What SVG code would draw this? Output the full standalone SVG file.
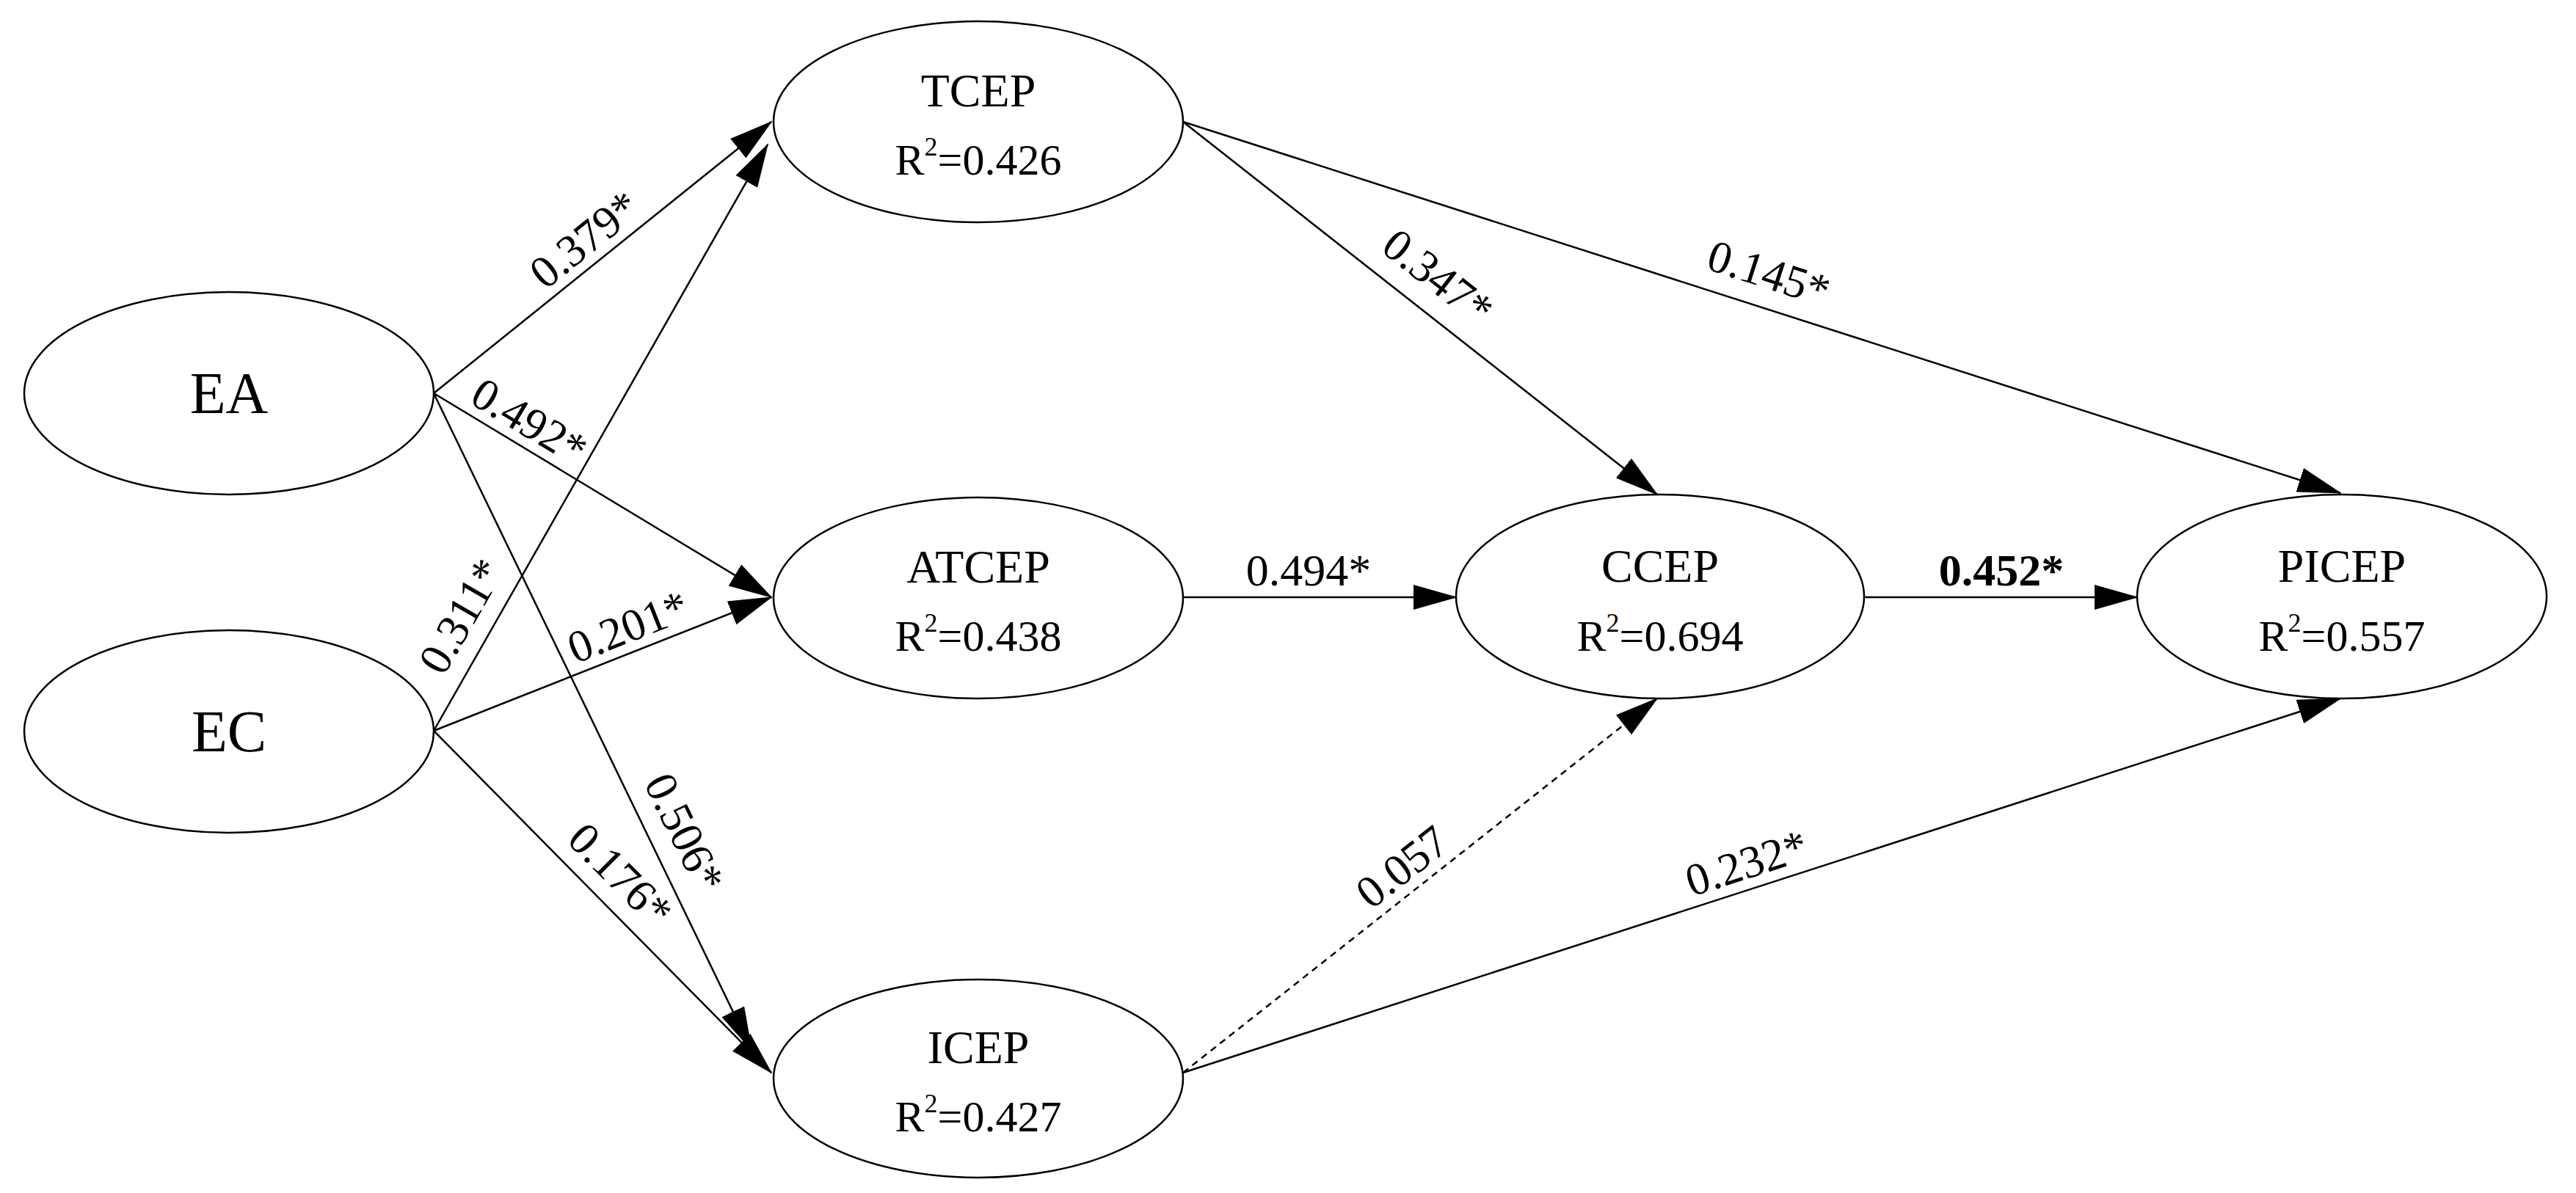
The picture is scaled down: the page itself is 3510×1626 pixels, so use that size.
<svg xmlns="http://www.w3.org/2000/svg" width="3510" height="1626" viewBox="0 0 3510 1626">
<style>
.n{fill:#fff;stroke:#000;stroke-width:2.5}
.t{font-family:"Liberation Serif","Times New Roman",serif;fill:#000;text-anchor:middle}
.big{font-size:80px}
.nm{font-size:64px}
.r{font-size:60px}
.lb{font-family:"Liberation Serif","Times New Roman",serif;font-size:62px;fill:#000;text-anchor:middle}
.c{stroke:#000;stroke-width:2.5;fill:none}
.d{stroke-dasharray:9,7}
</style>
<defs>
<marker id="a" markerUnits="userSpaceOnUse" markerWidth="60" markerHeight="40" viewBox="0 0 60 40" refX="58" refY="20" orient="auto">
<path d="M0,3 L60,20 L0,37 Z" fill="#000"/>
</marker>
</defs>
<rect width="3510" height="1626" fill="#fff"/>
<g id="connectors">
<line class="c" x1="591" y1="536" x2="1051" y2="166" marker-end="url(#a)"/>
<line class="c" x1="591" y1="536" x2="1051" y2="814" marker-end="url(#a)"/>
<line class="c" x1="591" y1="536" x2="1024" y2="1431" marker-end="url(#a)"/>
<line class="c" x1="591" y1="996" x2="1046" y2="197" marker-end="url(#a)"/>
<line class="c" x1="591" y1="996" x2="1051" y2="814" marker-end="url(#a)"/>
<line class="c" x1="591" y1="996" x2="1051" y2="1462" marker-end="url(#a)"/>
<line class="c" x1="1612" y1="166" x2="2258" y2="674" marker-end="url(#a)"/>
<line class="c" x1="1612" y1="166" x2="3189" y2="672" marker-end="url(#a)"/>
<line class="c" x1="1612" y1="814" x2="1984" y2="814" marker-end="url(#a)"/>
<line class="c" x1="2540" y1="814" x2="2912" y2="814" marker-end="url(#a)"/>
<line class="c d" x1="1612" y1="1462" x2="2258" y2="952" marker-end="url(#a)"/>
<line class="c" x1="1612" y1="1462" x2="3189" y2="952" marker-end="url(#a)"/>
<text class="lb" transform="translate(797,327) rotate(-38.8)" y="20">0.379*</text>
<text class="lb" transform="translate(721,575) rotate(31)" y="20">0.492*</text>
<text class="lb" transform="translate(629,840) rotate(-60)" y="20">0.311*</text>
<text class="lb" transform="translate(856,855) rotate(-21.6)" y="20">0.201*</text>
<text class="lb" transform="translate(932,1135) rotate(64)" y="20">0.506*</text>
<text class="lb" transform="translate(845,1193) rotate(45)" y="20">0.176*</text>
<text class="lb" transform="translate(1959,378) rotate(38)" y="20">0.347*</text>
<text class="lb" transform="translate(2410,373) rotate(17.8)" y="20">0.145*</text>
<text class="lb" x="1783" y="798">0.494*</text>
<text class="lb" x="2727" y="798" font-weight="bold">0.452*</text>
<text class="lb" transform="translate(1911,1182) rotate(-38)" y="20">0.057</text>
<text class="lb" transform="translate(2380,1177) rotate(-17.9)" y="20">0.232*</text>
</g>
<g id="EA"><ellipse class="n" cx="312" cy="536" rx="279" ry="138"/><text class="t big" x="312" y="563">EA</text></g>
<g id="EC"><ellipse class="n" cx="312" cy="997" rx="279" ry="138"/><text class="t big" x="312" y="1024">EC</text></g>
<g id="TCEP"><ellipse class="n" cx="1333" cy="166" rx="279" ry="137"/><text class="t nm" x="1333" y="145">TCEP</text><text class="t r" x="1333" y="238">R<tspan font-size="36" dy="-26">2</tspan><tspan dy="26">=0.426</tspan></text></g>
<g id="ATCEP"><ellipse class="n" cx="1333" cy="815" rx="279" ry="137"/><text class="t nm" x="1333" y="794">ATCEP</text><text class="t r" x="1333" y="887">R<tspan font-size="36" dy="-26">2</tspan><tspan dy="26">=0.438</tspan></text></g>
<g id="ICEP"><ellipse class="n" cx="1333" cy="1470" rx="279" ry="135"/><text class="t nm" x="1333" y="1449">ICEP</text><text class="t r" x="1333" y="1542">R<tspan font-size="36" dy="-26">2</tspan><tspan dy="26">=0.427</tspan></text></g>
<g id="CCEP"><ellipse class="n" cx="2262" cy="813" rx="278" ry="139"/><text class="t nm" x="2262" y="793">CCEP</text><text class="t r" x="2262" y="887">R<tspan font-size="36" dy="-26">2</tspan><tspan dy="26">=0.694</tspan></text></g>
<g id="PICEP"><ellipse class="n" cx="3191" cy="813" rx="279" ry="139"/><text class="t nm" x="3191" y="793">PICEP</text><text class="t r" x="3191" y="887">R<tspan font-size="36" dy="-26">2</tspan><tspan dy="26">=0.557</tspan></text></g>
</svg>
